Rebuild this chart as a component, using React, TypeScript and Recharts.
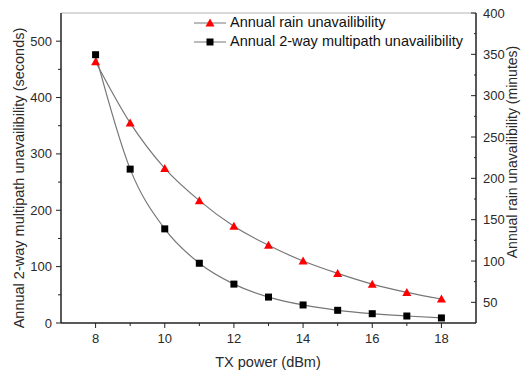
import { LineChart, Line, XAxis, YAxis, ReferenceLine } from "recharts";

const txPower = [8, 9, 10, 11, 12, 13, 14, 15, 16, 17, 18];
const rainMinutes = [341, 267, 212, 173, 142, 119, 100, 85, 72, 62, 54];
const multipathSeconds = [476, 273, 167, 106, 69, 46, 32, 22.5, 16.5, 12.4, 9];

const xTicks = [8, 9, 10, 11, 12, 13, 14, 15, 16, 17, 18];
const leftTicks = [0, 50, 100, 150, 200, 250, 300, 350, 400, 450, 500];
const rightTicks = [50, 75, 100, 125, 150, 175, 200, 225, 250, 275, 300, 325, 350, 375, 400];

const data = txPower.map((tx, i) => ({
  tx,
  rain: rainMinutes[i],
  multipath: multipathSeconds[i],
}));

const FONT = "'Liberation Sans', Arial, sans-serif";
const AXIS = "#222";
const TEXT = "#2a2a2a";
const LINE = "#777";
const TITLE_SIZE = 14.5;
const TICK_SIZE = 13;

const LeftTick = (props: any) => {
  const { x, y, payload } = props;
  const major = payload.value % 100 === 0;
  return (
    <g>
      <line x1={x} x2={x - (major ? 5 : 3)} y1={y} y2={y} stroke={AXIS} />
      {major && (
        <text x={x - 9} y={y} dy={4.5} textAnchor="end" fontSize={TICK_SIZE} fill={TEXT} fontFamily={FONT}>
          {payload.value}
        </text>
      )}
    </g>
  );
};

const RightTick = (props: any) => {
  const { x, y, payload } = props;
  const major = payload.value % 50 === 0;
  return (
    <g>
      <line x1={x} x2={x - (major ? 5 : 2)} y1={y} y2={y} stroke={AXIS} />
      {major && (
        <text x={x + 7} y={y} dy={4.5} textAnchor="start" fontSize={TICK_SIZE} fill={TEXT} fontFamily={FONT}>
          {payload.value}
        </text>
      )}
    </g>
  );
};

const BottomTick = (props: any) => {
  const { x, y, payload } = props;
  const major = payload.value % 2 === 0;
  return (
    <g>
      <line x1={x} x2={x} y1={y} y2={y + (major ? 5 : 3)} stroke={AXIS} />
      {major && (
        <text x={x} y={y + 20} textAnchor="middle" fontSize={TICK_SIZE} fill={TEXT} fontFamily={FONT}>
          {payload.value}
        </text>
      )}
    </g>
  );
};

const Square = (props: any) => {
  const { cx, cy, index } = props;
  return <rect key={"s" + index} x={cx - 3.5} y={cy - 3.5} width={7} height={7} fill="#000" />;
};

const Triangle = (props: any) => {
  const { cx, cy, index } = props;
  return (
    <path
      key={"t" + index}
      d={`M${cx},${cy - 4.5} L${cx + 4.5},${cy + 3.5} L${cx - 4.5},${cy + 3.5} Z`}
      fill="#f00"
    />
  );
};

const legendItems = [
  { name: "Annual rain unavailibility", marker: "tri" },
  { name: "Annual 2-way multipath unavailibility", marker: "sq" },
];

function ChartLegend() {
  return (
    <div
      style={{
        position: "absolute",
        left: 194,
        top: 13,
        fontFamily: FONT,
        fontSize: TITLE_SIZE,
        color: "#111",
        lineHeight: "19px",
      }}
    >
      {legendItems.map((item) => (
        <div key={item.name} style={{ display: "flex", alignItems: "center" }}>
          <svg width={36} height={19}>
            <line x1={0} x2={32} y1={10} y2={10} stroke={LINE} />
            {item.marker === "tri" ? (
              <path d="M16,5.5 L20.5,13.5 L11.5,13.5 Z" fill="#f00" />
            ) : (
              <rect x={12.5} y={6.5} width={7} height={7} fill="#000" />
            )}
          </svg>
          <span>{item.name}</span>
        </div>
      ))}
    </div>
  );
}

export default function App() {
  return (
    <div style={{ position: "absolute", left: 0, top: 0, width: 521, height: 370, background: "#fff" }}>
      <LineChart width={521} height={370} data={data} margin={{ top: 13, right: 0, bottom: 0, left: 0 }}>
        <XAxis
          dataKey="tx"
          type="number"
          domain={[7, 19]}
          ticks={xTicks}
          interval={0}
          height={47}
          tickSize={0}
          tickMargin={0}
          tickLine={false}
          tick={BottomTick}
          axisLine={{ stroke: AXIS, strokeWidth: 1.5 }}
          label={() => (
            <text x={268} y={367} textAnchor="middle" fontSize={TITLE_SIZE} fill={TEXT} fontFamily={FONT}>
              TX power (dBm)
            </text>
          )}
        />
        <YAxis
          yAxisId="left"
          domain={[0, 550]}
          ticks={leftTicks}
          interval={0}
          width={61}
          tickSize={0}
          tickMargin={0}
          tickLine={false}
          tick={LeftTick}
          axisLine={{ stroke: AXIS, strokeWidth: 1.5 }}
          label={() => (
            <text
              x={0}
              y={0}
              transform="translate(24,178) rotate(-90)"
              textAnchor="middle"
              fontSize={TITLE_SIZE}
              fill={TEXT}
              fontFamily={FONT}
            >
              Annual 2-way multipath unavailibility (seconds)
            </text>
          )}
        />
        <YAxis
          yAxisId="right"
          orientation="right"
          domain={[25, 400]}
          ticks={rightTicks}
          interval={0}
          width={45}
          tickSize={0}
          tickMargin={0}
          tickLine={false}
          tick={RightTick}
          axisLine={{ stroke: AXIS, strokeWidth: 1.5 }}
          label={() => (
            <text
              x={0}
              y={0}
              transform="translate(517,152) rotate(-90)"
              textAnchor="middle"
              fontSize={14}
              fill={TEXT}
              fontFamily={FONT}
            >
              Annual rain unavailibility (minutes)
            </text>
          )}
        />
        <ReferenceLine yAxisId="left" y={550} stroke="#ccc" strokeWidth={1.5} />
        <Line
          yAxisId="right"
          dataKey="rain"
          type="monotone"
          stroke={LINE}
          strokeWidth={1.2}
          dot={Triangle}
          activeDot={false}
          isAnimationActive={false}
        />
        <Line
          yAxisId="left"
          dataKey="multipath"
          type="monotone"
          stroke={LINE}
          strokeWidth={1.2}
          dot={Square}
          activeDot={false}
          isAnimationActive={false}
        />
      </LineChart>
      <ChartLegend />
    </div>
  );
}
